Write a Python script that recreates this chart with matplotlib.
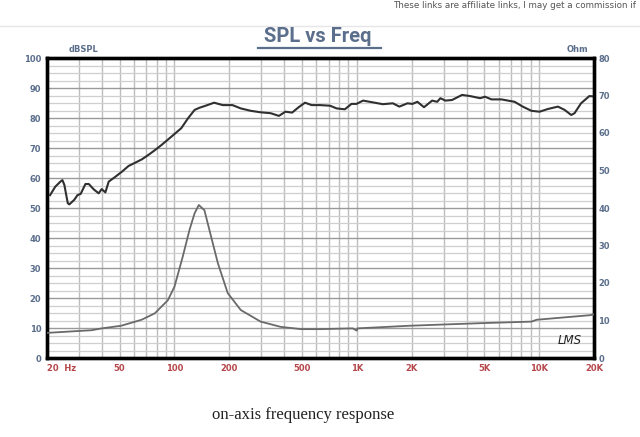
#!/usr/bin/env python3
"""SPL vs frequency chart with impedance overlay (LMS style)."""
import matplotlib
matplotlib.use("Agg")
import matplotlib.pyplot as plt
import matplotlib.transforms as mtransforms
from matplotlib.lines import Line2D
from matplotlib.ticker import FixedLocator, NullFormatter

# ---- data ----
spl_freq = [20.8, 22.2, 23.7, 24.3, 24.9, 26.0, 26.5, 28.2, 29.4, 30.6, 32.5,
            33.9, 36.1, 38.4, 39.9, 41.8, 43.6, 47.4, 51.5, 56.0, 60.9, 66.2,
            72.0, 78.2, 84.9, 96.3, 109, 118.7, 129, 137, 150, 165, 184, 208,
            231, 262, 297, 337, 374, 406, 442, 480, 520, 566, 628, 713, 775,
            860, 935, 996, 1083, 1228, 1390, 1577, 1711, 1897, 2020, 2150,
            2337, 2590, 2760, 2875, 3060, 3330, 3780, 4190, 4750, 5050, 5480,
            6220, 6750, 7340, 8130, 9070, 10060, 11170, 12690, 13800, 15000,
            15640, 16980, 18850, 20000]
spl_db = [54.3, 57.1, 58.8, 59.3, 57.7, 51.6, 51.2, 52.7, 54.3, 54.7, 58.0,
          58.0, 56.2, 54.9, 56.3, 55.2, 58.8, 60.4, 62.1, 64.0, 65.1, 66.2,
          67.7, 69.3, 71.0, 73.8, 76.6, 79.9, 82.7, 83.4, 84.2, 85.1, 84.3,
          84.3, 83.2, 82.4, 81.9, 81.6, 80.7, 82.1, 81.8, 83.6, 85.1, 84.3,
          84.3, 84.1, 83.2, 82.9, 84.7, 84.7, 85.8, 85.2, 84.6, 84.9, 83.8,
          84.9, 84.7, 85.4, 83.6, 85.8, 85.4, 86.6, 85.8, 86.0, 87.7, 87.3,
          86.6, 87.1, 86.2, 86.2, 85.8, 85.4, 83.8, 82.4, 82.1, 83.0, 83.8,
          82.7, 81.0, 81.6, 84.9, 87.3, 87.2]

imp_freq = [20, 35, 40, 51, 61, 66, 78, 92, 100, 111, 121, 129, 136, 146,
            159, 173, 196, 231, 297, 383, 495, 630, 950, 1000, 1010, 1940,
            4870, 9070, 9700, 18850, 20000]
imp_ohm = [6.7, 7.4, 7.9, 8.6, 9.7, 10.2, 11.9, 15.4, 19.0, 27.0, 34.2, 38.6,
           40.8, 39.4, 32.3, 25.3, 17.3, 12.8, 9.7, 8.3, 7.7, 7.7, 7.9, 7.3,
           7.9, 8.6, 9.3, 9.7, 10.2, 11.4, 11.6]

x_ticks = [20, 50, 100, 200, 500, 1000, 2000, 5000, 10000, 20000]
x_labels = ["20  Hz", "50", "100", "200", "500", "1K", "2K", "5K", "10K", "20K"]

BLUE = "#5b6e8c"
RED = "#b5474b"

fig = plt.figure(figsize=(6.4, 4.37), dpi=100)
ax = fig.add_axes([47 / 640, 1 - 358 / 437, 547 / 640, 300 / 437])

ax.set_xscale("log")
ax.set_xlim(20, 20000)
ax.set_ylim(0, 100)

# grid
minors = [m * 10 ** e for e in range(1, 5) for m in range(2, 10)
          if 20 < m * 10 ** e < 20000]
ax.xaxis.set_minor_locator(FixedLocator(minors))
ax.xaxis.set_minor_formatter(NullFormatter())
ax.set_yticks(range(0, 101, 10))
ax.yaxis.set_minor_locator(FixedLocator([v * 2.5 for v in range(41)]))
ax.grid(True, which="major", axis="y", color="#9a9a9a", lw=1.0)
ax.grid(True, which="minor", axis="y", color="#cfcfcf", lw=0.9)
ax.grid(True, which="both", axis="x", color="#bdbdbd", lw=1.0)
ax.set_axisbelow(True)

ax.plot(spl_freq, spl_db, color="#303030", lw=1.5, zorder=4)

ax2 = ax.twinx()
ax2.set_ylim(0, 80)
ax2.set_yticks(range(0, 81, 10))
ax2.plot(imp_freq, imp_ohm, color="#6a6a6a", lw=1.3, zorder=3)

ax.set_xticks(x_ticks)
ax.set_xticklabels(x_labels)
for lab in ax.get_xticklabels():
    lab.set_color(RED)
    lab.set_fontweight("bold")
    lab.set_fontsize(6)
first = ax.get_xticklabels()[0]
first.set_horizontalalignment("left")
first.set_transform(first.get_transform() +
                    mtransforms.ScaledTranslation(8 / 100, 0, fig.dpi_scale_trans))

ax.tick_params(axis="x", which="both", length=0, pad=4)
ax.tick_params(axis="y", which="both", length=0, pad=4, labelsize=6,
               labelcolor=BLUE)
ax2.tick_params(axis="y", length=0, pad=3, labelsize=6, labelcolor=BLUE)
for lab in ax.get_yticklabels() + ax2.get_yticklabels():
    lab.set_fontweight("bold")

for a in (ax, ax2):
    for s in a.spines.values():
        s.set_linewidth(2.4)
        s.set_color("black")

ax.text(0.04, 1.012, "dBSPL", transform=ax.transAxes, fontsize=6,
        fontweight="bold", color=BLUE, ha="left", va="bottom")
ax.text(0.99, 1.012, "Ohm", transform=ax.transAxes, fontsize=6,
        fontweight="bold", color=BLUE, ha="right", va="bottom")
ax.text(0.955, 0.035, "LMS", transform=ax.transAxes, fontsize=8.5,
        fontstyle="italic", color="#222222", ha="center", va="bottom",
        zorder=6)

# page furniture
fig.text(318 / 640, 1 - 37 / 437, "SPL vs Freq", fontsize=14.5,
         fontweight="bold", color=BLUE, ha="center", va="center",
         family="Roboto")
fig.add_artist(Line2D([258 / 640, 381 / 640], [1 - 48 / 437, 1 - 48 / 437],
                      color=BLUE, lw=1.6))
fig.add_artist(Line2D([0, 1], [1 - 26 / 437, 1 - 26 / 437],
                      color="#e6e6e6", lw=1.0))
fig.text(636 / 640, 1 - 6 / 437,
         "These links are affiliate links, I may get a commission if",
         fontsize=6.3, color="#555555", ha="right", va="center")
fig.text(303 / 640, 1 - 415 / 437, "on-axis frequency response",
         fontsize=12, color="#222222", ha="center", va="center",
         family="Liberation Serif")

fig.savefig("out.png", dpi=100)
